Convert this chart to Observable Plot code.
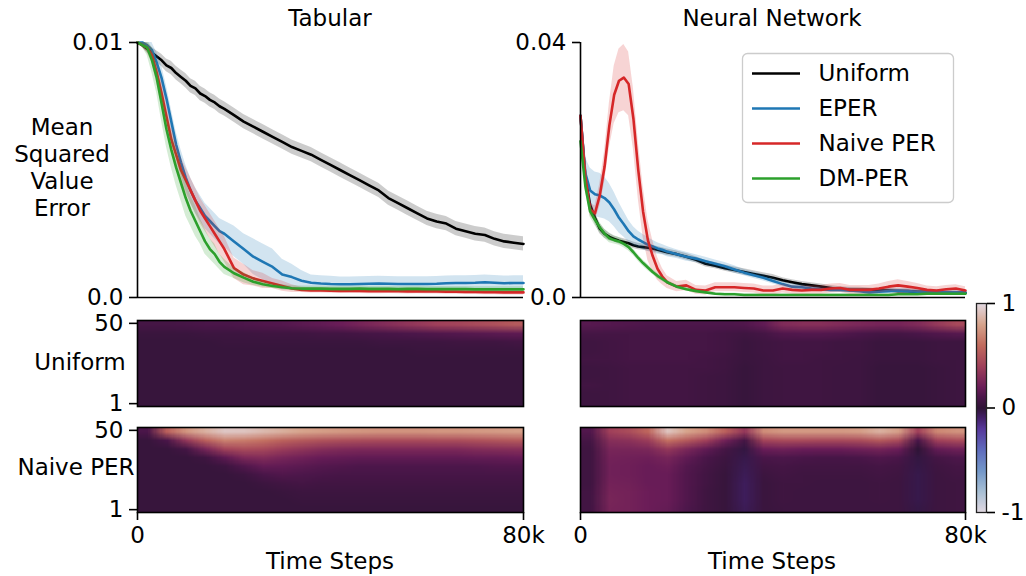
<!DOCTYPE html>
<html><head><meta charset="utf-8">
<script src="https://cdn.jsdelivr.net/npm/d3@7"></script>
<script src="https://cdn.jsdelivr.net/npm/@observablehq/plot@0.6"></script>
<style>
body{margin:0;background:#fff;}
#root{position:relative;width:1026px;height:576px;overflow:hidden;font-family:"DejaVu Sans",sans-serif;background:#fff;}
.lbl{position:absolute;font-size:23px;color:#000;white-space:nowrap;line-height:27px;transform:translate(-50%,-50%);text-align:center;}
</style></head>
<body><div id="root"></div>
<script>
// ---------- data ----------
const steps = [0,1,2,3,4,5,6,7,8,9,10,11,12,13,14,15,16,17,18,20,22,24,26,28,30,32,34,36,38,40,42,44,46,48,50,52,54,56,58,60,62,64,66,68,70,72,74,76,78,80]; // thousands of time steps
const seriesNames = ["Uniform","EPER","Naive PER","DM-PER"];
const seriesColors = ["#000000","#1f77b4","#d62728","#2ca02c"];

// Tabular MSVE
const tabUniform = [0.0100,0.0099,0.00975,0.0096,0.00945,0.0093,0.0091,0.0090,0.0088,0.00865,0.0085,0.0083,0.0082,0.0080,0.0079,0.00775,0.00765,0.0075,0.0074,
 0.00715,0.0069,0.0067,0.0065,0.0063,0.0061,0.0059,0.00575,0.0056,0.0054,0.0052,0.0050,0.0048,0.0046,0.0044,0.0042,0.0039,0.0037,0.0035,0.0033,0.0031,0.00298,0.0029,0.0027,0.0026,0.0025,0.00245,0.0023,0.0022,0.00215,0.0021];
const tabUniformSd = [0.00002,0.0001,0.00015,0.0002,0.00022,0.00024,0.00025,0.00026,0.00027,0.00027,0.00028,0.00028,0.00028,0.00028,0.00028,0.00028,0.00028,0.00028,0.00028,
 0.00028,0.00028,0.00028,0.00028,0.00028,0.00028,0.00028,0.00028,0.00028,0.00028,0.00028,0.00028,0.00028,0.00028,0.00028,0.00028,0.00028,0.00028,0.00028,0.00028,0.00028,0.00028,0.00028,0.00028,0.00028,0.00028,0.00028,0.00028,0.00028,0.00028,0.00028];
const tabEper = [0.0100,0.0100,0.0099,0.0097,0.0092,0.0086,0.0078,0.0069,0.0060,0.0053,0.0047,0.0042,0.0038,0.0035,0.0032,0.0030,0.0028,0.0026,0.0025,
 0.0022,0.0019,0.0016,0.0014,0.0012,0.0009,0.0008,0.00066,0.00058,0.00055,0.00053,0.00052,0.00052,0.00053,0.00054,0.00055,0.00054,0.00053,0.00053,0.00053,0.00053,0.00054,0.00056,0.00057,0.00057,0.00058,0.0006,0.00058,0.00056,0.00057,0.00057];
const tabEperSd = [0.00002,0.0001,0.0002,0.0003,0.0004,0.0005,0.0005,0.0005,0.0005,0.0005,0.0005,0.0005,0.0005,0.0005,0.0005,0.0005,0.0005,0.0005,0.0005,
 0.0006,0.0006,0.0007,0.0007,0.0007,0.0006,0.0005,0.0004,0.0003,0.0003,0.0003,0.00028,0.00028,0.00028,0.00028,0.00028,0.00028,0.00028,0.00028,0.00028,0.00028,0.00028,0.00028,0.00028,0.00028,0.00028,0.00028,0.00028,0.00028,0.00028,0.00028];
const tabNaive = [0.0100,0.0099,0.0098,0.0095,0.0088,0.0080,0.0071,0.0062,0.0056,0.0050,0.0046,0.0042,0.0038,0.0034,0.0031,0.0028,0.0025,0.0022,0.0019,
 0.00115,0.0009,0.00075,0.00065,0.00055,0.00045,0.00035,0.0003,0.00028,0.00028,0.00027,0.00026,0.00027,0.00026,0.00025,0.00025,0.00026,0.00025,0.00024,0.00025,0.00024,0.00024,0.00023,0.00023,0.00022,0.00022,0.00021,0.00021,0.0002,0.0002,0.0002];
const tabNaiveSd = [0.00002,0.0001,0.0002,0.0003,0.0004,0.0005,0.0005,0.0005,0.0005,0.0005,0.0005,0.0005,0.0005,0.0005,0.0005,0.0005,0.0005,0.0005,0.0005,
 0.0004,0.0004,0.0003,0.0003,0.0002,0.0002,0.00015,0.0001,0.0001,0.0001,0.0001,0.0001,0.0001,0.0001,0.0001,0.0001,0.0001,0.0001,0.0001,0.0001,0.0001,0.0001,0.0001,0.0001,0.0001,0.0001,0.0001,0.0001,0.0001,0.0001,0.0001];
const tabDm = [0.0100,0.0099,0.0098,0.0093,0.0086,0.0076,0.0066,0.0058,0.0051,0.0045,0.0039,0.0034,0.0030,0.0026,0.0022,0.0019,0.0017,0.0014,0.0012,
 0.00095,0.00078,0.00062,0.00052,0.00045,0.0004,0.00036,0.00035,0.00035,0.00035,0.00034,0.00034,0.00034,0.00035,0.00034,0.00034,0.00034,0.00033,0.00034,0.00034,0.00033,0.00033,0.00033,0.00033,0.00033,0.00032,0.00032,0.00032,0.00032,0.00032,0.00032];
const tabDmSd = [0.00002,0.0001,0.0003,0.0005,0.0006,0.0007,0.0007,0.0007,0.0007,0.0007,0.0007,0.0006,0.0006,0.0005,0.0005,0.0004,0.0004,0.0003,0.0003,
 0.0002,0.0002,0.00015,0.00012,0.0001,0.0001,0.0001,0.0001,0.0001,0.0001,0.0001,0.0001,0.0001,0.0001,0.0001,0.0001,0.0001,0.0001,0.0001,0.0001,0.0001,0.0001,0.0001,0.0001,0.0001,0.0001,0.0001,0.0001,0.0001,0.0001,0.0001];

// Neural network MSVE
const nnUniform = [0.0285,0.0190,0.0145,0.0125,0.0108,0.0100,0.0095,0.0092,0.0089,0.0087,0.0085,0.0082,0.0080,0.0079,0.0078,0.0077,0.0075,0.0073,0.0071,
 0.0068,0.0064,0.0059,0.0053,0.0050,0.0046,0.0043,0.0040,0.0037,0.0034,0.0031,0.0027,0.0024,0.0021,0.0019,0.0017,0.0015,0.0013,0.0012,0.0012,0.0012,0.0011,0.0011,0.0010,0.0010,0.0009,0.0009,0.0008,0.0008,0.0007,0.0007];
const nnUniformSd = [0.0003,0.0008,0.0009,0.0009,0.0008,0.0007,0.0006,0.0005,0.0005,0.0005,0.0005,0.0005,0.0005,0.0005,0.0005,0.0005,0.0005,0.0005,0.0005,
 0.0005,0.0005,0.0005,0.0005,0.0005,0.0005,0.0005,0.0005,0.0005,0.0005,0.0005,0.0004,0.0004,0.0004,0.0004,0.0004,0.0004,0.0004,0.0004,0.0004,0.0003,0.0003,0.0003,0.0003,0.0003,0.0003,0.0003,0.0003,0.0003,0.0003,0.0003];
const nnEper = [0.0285,0.0195,0.0168,0.0162,0.0160,0.0156,0.0149,0.0138,0.0125,0.0115,0.0104,0.0096,0.0091,0.0087,0.0083,0.0080,0.0077,0.0075,0.0072,
 0.0068,0.0064,0.0061,0.0057,0.0053,0.0049,0.0044,0.0039,0.0035,0.0031,0.0026,0.0021,0.0017,0.0016,0.0014,0.0013,0.0012,0.0012,0.0011,0.0010,0.0008,0.0009,0.0010,0.0011,0.0010,0.0009,0.0008,0.0008,0.0008,0.0008,0.0008];
const nnEperSd = [0.0003,0.0025,0.0035,0.0035,0.0035,0.0033,0.0030,0.0027,0.0024,0.0020,0.0017,0.0015,0.0013,0.0012,0.0011,0.0010,0.0009,0.0008,0.0008,
 0.0007,0.0007,0.0006,0.0006,0.0006,0.0006,0.0006,0.0005,0.0005,0.0005,0.0005,0.0004,0.0004,0.0004,0.0004,0.0004,0.0004,0.0004,0.0004,0.0004,0.0004,0.0004,0.0004,0.0004,0.0004,0.0004,0.0004,0.0004,0.0004,0.0004,0.0004];
const nnNaive = [0.0285,0.0190,0.0138,0.0132,0.0160,0.0205,0.0270,0.0318,0.0340,0.0345,0.0335,0.0280,0.0200,0.0135,0.0090,0.0065,0.0045,0.0033,0.0024,
 0.0017,0.0019,0.0012,0.0011,0.0016,0.0016,0.0016,0.0015,0.0014,0.0011,0.0011,0.0014,0.0012,0.0011,0.0012,0.0012,0.0014,0.0015,0.0012,0.0012,0.0012,0.0014,0.0017,0.0019,0.0017,0.0015,0.0012,0.0011,0.0013,0.0014,0.0011];
const nnNaiveSd = [0.0003,0.0008,0.0010,0.0012,0.0018,0.0025,0.0035,0.0045,0.0050,0.0052,0.0050,0.0048,0.0045,0.0040,0.0032,0.0025,0.0018,0.0013,0.0010,
 0.0008,0.0008,0.0007,0.0007,0.0007,0.0007,0.0007,0.0007,0.0007,0.0007,0.0007,0.0007,0.0007,0.0007,0.0007,0.0007,0.0007,0.0007,0.0007,0.0007,0.0007,0.0007,0.0008,0.0009,0.0008,0.0007,0.0006,0.0006,0.0006,0.0006,0.0006];
const nnDm = [0.0245,0.0175,0.0135,0.0122,0.0110,0.0100,0.0093,0.0090,0.0088,0.0084,0.0079,0.0071,0.0062,0.0054,0.0047,0.0040,0.0034,0.0029,0.0024,
 0.0017,0.0013,0.0010,0.0008,0.0006,0.0005,0.0005,0.0004,0.0004,0.0004,0.0004,0.0004,0.0004,0.0004,0.0004,0.0004,0.0004,0.0004,0.0004,0.0004,0.0004,0.0004,0.0004,0.0005,0.0005,0.0005,0.0006,0.0006,0.0006,0.0006,0.0006];
const nnDmSd = [0.0003,0.0008,0.0009,0.0009,0.0008,0.0007,0.0007,0.0006,0.0006,0.0006,0.0006,0.0005,0.0005,0.0005,0.0005,0.0004,0.0004,0.0004,0.0003,
 0.0003,0.0003,0.0002,0.0002,0.0002,0.0002,0.0002,0.0002,0.0002,0.0002,0.0002,0.0002,0.0002,0.0002,0.0002,0.0002,0.0002,0.0002,0.0002,0.0002,0.0002,0.0002,0.0002,0.0002,0.0002,0.0002,0.0002,0.0002,0.0002,0.0002,0.0002];

// Heatmaps: rows = priority ranks 50 (top) .. 1 (bottom) in bands of 5; columns = 4k-step bins 0..80k
const hmTabUniform = [
 [0.08,0.08,0.09,0.10,0.10,0.11,0.12,0.13,0.15,0.17,0.20,0.24,0.28,0.32,0.36,0.40,0.42,0.45,0.48,0.52],
 [0.04,0.04,0.04,0.05,0.05,0.05,0.06,0.06,0.06,0.07,0.07,0.08,0.09,0.10,0.11,0.12,0.13,0.14,0.15,0.16],
 [0.03,0.03,0.03,0.03,0.04,0.04,0.04,0.04,0.04,0.04,0.04,0.04,0.05,0.05,0.05,0.05,0.06,0.06,0.06,0.07],
 [0.03,0.03,0.03,0.03,0.03,0.03,0.03,0.03,0.03,0.03,0.03,0.03,0.03,0.03,0.04,0.04,0.04,0.04,0.04,0.04],
 [0.03,0.03,0.03,0.03,0.03,0.03,0.03,0.03,0.03,0.03,0.03,0.03,0.03,0.03,0.03,0.03,0.03,0.03,0.03,0.03],
 [0.03,0.03,0.03,0.03,0.03,0.03,0.03,0.03,0.03,0.03,0.03,0.03,0.03,0.03,0.03,0.03,0.03,0.03,0.03,0.03],
 [0.03,0.03,0.03,0.03,0.03,0.03,0.03,0.03,0.03,0.03,0.03,0.03,0.03,0.03,0.03,0.03,0.03,0.03,0.03,0.03],
 [0.03,0.03,0.03,0.03,0.03,0.03,0.03,0.03,0.03,0.03,0.03,0.03,0.03,0.03,0.03,0.03,0.03,0.03,0.03,0.03],
 [0.03,0.03,0.03,0.03,0.03,0.03,0.03,0.03,0.03,0.03,0.03,0.03,0.03,0.03,0.03,0.03,0.03,0.03,0.03,0.03],
 [0.03,0.03,0.03,0.03,0.03,0.03,0.03,0.03,0.03,0.03,0.03,0.03,0.03,0.03,0.03,0.03,0.03,0.03,0.03,0.03]];
const hmTabNaive = [
 [0.10,0.55,0.75,0.85,0.93,0.92,0.88,0.84,0.80,0.78,0.76,0.75,0.74,0.74,0.74,0.75,0.75,0.76,0.77,0.78],
 [0.03,0.10,0.35,0.55,0.68,0.66,0.62,0.56,0.52,0.49,0.47,0.46,0.45,0.45,0.45,0.46,0.46,0.48,0.50,0.52],
 [0.03,0.03,0.08,0.25,0.42,0.46,0.44,0.38,0.34,0.30,0.28,0.27,0.27,0.27,0.27,0.27,0.27,0.29,0.30,0.31],
 [0.03,0.03,0.03,0.06,0.16,0.27,0.29,0.25,0.22,0.19,0.18,0.17,0.17,0.17,0.17,0.17,0.17,0.18,0.18,0.19],
 [0.03,0.03,0.03,0.03,0.05,0.12,0.18,0.17,0.15,0.13,0.12,0.11,0.11,0.11,0.11,0.11,0.11,0.11,0.12,0.12],
 [0.03,0.03,0.03,0.03,0.03,0.05,0.10,0.12,0.11,0.10,0.09,0.09,0.09,0.09,0.09,0.09,0.09,0.09,0.09,0.09],
 [0.03,0.03,0.03,0.03,0.03,0.03,0.05,0.07,0.08,0.07,0.07,0.07,0.07,0.07,0.07,0.07,0.07,0.07,0.07,0.07],
 [0.03,0.03,0.03,0.03,0.03,0.03,0.03,0.04,0.05,0.05,0.05,0.05,0.05,0.05,0.05,0.05,0.05,0.05,0.05,0.05],
 [0.03,0.03,0.03,0.03,0.03,0.03,0.03,0.03,0.04,0.04,0.04,0.04,0.04,0.04,0.04,0.04,0.04,0.04,0.04,0.04],
 [0.03,0.03,0.03,0.03,0.03,0.03,0.03,0.03,0.03,0.03,0.03,0.03,0.03,0.03,0.03,0.03,0.03,0.03,0.03,0.03]];
const hmNnUniform = [
 [0.14,0.13,0.12,0.11,0.11,0.11,0.11,0.11,0.12,0.17,0.28,0.30,0.30,0.28,0.26,0.24,0.24,0.28,0.36,0.44],
 [0.08,0.08,0.08,0.08,0.08,0.08,0.08,0.07,0.06,0.08,0.12,0.13,0.13,0.12,0.10,0.08,0.08,0.10,0.12,0.14],
 [0.06,0.07,0.08,0.08,0.08,0.08,0.08,0.07,0.04,0.06,0.07,0.07,0.07,0.06,0.06,0.04,0.04,0.04,0.05,0.05],
 [0.06,0.07,0.08,0.08,0.08,0.08,0.08,0.07,0.04,0.06,0.07,0.07,0.07,0.06,0.06,0.04,0.04,0.04,0.05,0.05],
 [0.07,0.07,0.08,0.08,0.08,0.08,0.07,0.06,0.04,0.05,0.07,0.07,0.06,0.06,0.05,0.04,0.04,0.04,0.05,0.05],
 [0.05,0.06,0.07,0.07,0.07,0.07,0.07,0.06,0.03,0.05,0.06,0.06,0.06,0.05,0.05,0.03,0.03,0.03,0.04,0.05],
 [0.05,0.06,0.07,0.07,0.07,0.07,0.06,0.05,0.03,0.05,0.06,0.06,0.06,0.05,0.05,0.03,0.03,0.03,0.04,0.05],
 [0.07,0.06,0.07,0.07,0.07,0.07,0.06,0.05,0.03,0.05,0.06,0.06,0.06,0.05,0.05,0.03,0.03,0.03,0.04,0.05],
 [0.05,0.06,0.07,0.07,0.07,0.07,0.06,0.05,0.03,0.05,0.06,0.06,0.06,0.05,0.05,0.03,0.03,0.03,0.04,0.05],
 [0.05,0.06,0.07,0.07,0.07,0.07,0.06,0.05,0.03,0.05,0.06,0.06,0.06,0.05,0.05,0.03,0.03,0.03,0.04,0.05]];
const hmNnNaive = [
 [0.12,0.40,0.46,0.58,0.92,0.80,0.72,0.55,0.35,0.72,0.76,0.76,0.76,0.76,0.78,0.85,0.78,0.40,0.70,0.74],
 [0.08,0.30,0.32,0.38,0.62,0.52,0.40,0.22,0.08,0.42,0.45,0.45,0.44,0.44,0.46,0.52,0.45,0.10,0.40,0.45],
 [0.06,0.25,0.25,0.26,0.36,0.26,0.17,0.08,-0.02,0.20,0.22,0.20,0.20,0.20,0.22,0.24,0.20,0.00,0.18,0.22],
 [0.06,0.23,0.22,0.21,0.25,0.17,0.10,0.05,-0.04,0.10,0.11,0.10,0.09,0.09,0.10,0.12,0.10,-0.02,0.08,0.11],
 [0.06,0.22,0.21,0.19,0.21,0.13,0.08,0.04,-0.05,0.07,0.08,0.07,0.07,0.07,0.07,0.08,0.07,-0.03,0.06,0.08],
 [0.06,0.22,0.21,0.19,0.19,0.12,0.07,0.03,-0.06,0.05,0.07,0.06,0.06,0.06,0.06,0.07,0.06,-0.04,0.05,0.07],
 [0.06,0.23,0.22,0.19,0.19,0.12,0.07,0.03,-0.07,0.04,0.06,0.06,0.05,0.05,0.05,0.06,0.05,-0.04,0.05,0.06],
 [0.07,0.24,0.23,0.20,0.19,0.12,0.06,0.03,-0.07,0.04,0.06,0.05,0.05,0.05,0.05,0.06,0.05,-0.04,0.05,0.06],
 [0.07,0.25,0.23,0.20,0.19,0.12,0.06,0.03,-0.07,0.04,0.06,0.05,0.05,0.05,0.05,0.06,0.05,-0.04,0.05,0.06],
 [0.07,0.24,0.23,0.20,0.18,0.11,0.06,0.03,-0.06,0.04,0.05,0.05,0.05,0.05,0.05,0.05,0.05,-0.03,0.05,0.06]];

// twilight-like colormap for values -1..1
const cmapStops = [-1,-0.8,-0.6,-0.4,-0.2,-0.1,0,0.1,0.2,0.4,0.6,0.8,1];
const cmapColors = ["#e2d9e2","#a7bfd4","#7397c9","#5f6bbd","#57389b","#44216b","#2f1436","#4a1649","#6b1d58","#a0405a","#c26b5d","#d7a48c","#e2d9e2"];
const colorbarTicks = [-1,0,1];

// ---------- drawing ----------
const W = 1026, H = 576;
const root = document.getElementById("root");
const baseStyle = {background:"transparent", fontFamily:"DejaVu Sans, sans-serif", fontSize:"23px", color:"black", overflow:"visible"};
const colorScale = {type:"linear", domain:cmapStops, range:cmapColors, clamp:true};
function box(x0,y0,x1,y1){ return {width:W, height:H, marginLeft:x0, marginTop:y0, marginRight:W-x1, marginBottom:H-y1}; }
function add(el){ el.style.position="absolute"; el.style.left="0px"; el.style.top="0px"; root.appendChild(el); }
function label(text, x, y){ const d=document.createElement("div"); d.className="lbl"; d.innerHTML=text; d.style.left=x+"px"; d.style.top=y+"px"; root.appendChild(d); }
function rowsOf(vals, sd){ return steps.map((s,i)=>({step:s, y:vals[i], lo:vals[i]-sd[i], hi:vals[i]+sd[i]})); }

function linePanel(b, ymax, series, tickLabels){
  const marks = [];
  series.forEach(s => {
    const rows = rowsOf(s.vals, s.sd);
    marks.push(Plot.areaY(rows, {x:"step", y1:"lo", y2:"hi", fill:s.color, fillOpacity:0.2, clip:true}));
    marks.push(Plot.line(rows, {x:"step", y:"y", stroke:s.color, strokeWidth:2.6}));
  });
  marks.push(Plot.ruleX([0], {stroke:"black", strokeWidth:1.6}));
  marks.push(Plot.ruleY([0], {stroke:"black", strokeWidth:1.6}));
  marks.push(Plot.axisY({ticks:[0,ymax], tickFormat:(d)=> d===0 ? tickLabels[0] : tickLabels[1], tickSize:8, tickPadding:6, strokeWidth:1.6, label:null}));
  return Plot.plot({...b, x:{domain:[0,80], axis:null}, y:{domain:[0,ymax]}, style:baseStyle, marks});
}
function heatPanel(b, grid, showY, showX){
  const marks = [
    Plot.raster(grid.flat(), {width:grid[0].length, height:grid.length, x1:0, x2:80, y1:50.5, y2:0.5, fill:d=>d}),
    Plot.frame({stroke:"black", strokeWidth:1.6})
  ];
  if (showY) {
    marks.push(Plot.axisY({ticks:[50], tickFormat:d=>String(d), tickSize:8, tickPadding:6, strokeWidth:1.6, dy:2, label:null}));
    marks.push(Plot.axisY({ticks:[1], tickFormat:d=>String(d), tickSize:8, tickPadding:6, strokeWidth:1.6, dy:-2, label:null}));
  }
  if (showX) marks.push(Plot.axisX({ticks:[0,80], tickFormat:d=> d===0 ? "0" : "80k", tickSize:8, tickPadding:6, strokeWidth:1.6, label:null}));
  const xs = showX ? {domain:[0,80]} : {domain:[0,80], axis:null};
  const ys = showY ? {domain:[0.5,50.5]} : {domain:[0.5,50.5], axis:null};
  return Plot.plot({...b, x:xs, y:ys, color:colorScale, style:baseStyle, marks});
}

const tabSeries = [
  {vals:tabUniform, sd:tabUniformSd, color:seriesColors[0]},
  {vals:tabEper, sd:tabEperSd, color:seriesColors[1]},
  {vals:tabNaive, sd:tabNaiveSd, color:seriesColors[2]},
  {vals:tabDm, sd:tabDmSd, color:seriesColors[3]}];
const nnSeries = [
  {vals:nnUniform, sd:nnUniformSd, color:seriesColors[0]},
  {vals:nnEper, sd:nnEperSd, color:seriesColors[1]},
  {vals:nnNaive, sd:nnNaiveSd, color:seriesColors[2]},
  {vals:nnDm, sd:nnDmSd, color:seriesColors[3]}];

add(linePanel(box(137,42,523,297), 0.01, tabSeries, ["0.0","0.01"]));
add(linePanel(box(580,42,965,297), 0.04, nnSeries, ["0.0","0.04"]));

add(heatPanel(box(137,320,523,406), hmTabUniform, true, false));
add(heatPanel(box(137,427,523,512), hmTabNaive, true, true));
add(heatPanel(box(580,320,965,406), hmNnUniform, false, false));
add(heatPanel(box(580,427,965,512), hmNnNaive, false, true));

// colorbar
add(Plot.plot({...box(976,303,986,512), x:{domain:[0,1], axis:null}, y:{domain:[-1,1]}, color:colorScale, style:baseStyle,
  marks:[
    Plot.raster({fill:(x,y)=>y, x1:0, x2:1, y1:1, y2:-1, pixelSize:1}),
    Plot.frame({stroke:"#222", strokeWidth:1.3}),
    Plot.axisY({anchor:"right", ticks:colorbarTicks, tickFormat:d=>String(d), tickSize:8, tickPadding:7, strokeWidth:1.6, label:null})
  ]}));

// legend
add(Plot.plot({...box(742,53,953,202), x:{domain:[0,1], range:[752,800], axis:null}, y:{type:"point", padding:0, domain:seriesNames, range:[73,178], axis:null},
  color:{domain:seriesNames, range:seriesColors}, style:baseStyle,
  marks:[
    Plot.frame({fill:"white", fillOpacity:0.8, stroke:"#cccccc", strokeWidth:1.3, rx:5}),
    Plot.ruleY(seriesNames, {y:d=>d, x1:0, x2:1, stroke:d=>d, strokeWidth:2.6}),
    Plot.text(seriesNames, {x:1, y:d=>d, text:d=>d, dx:18, textAnchor:"start", fontSize:23, fill:"black"})
  ]}));

// text labels
label("Tabular", 330, 18);
label("Neural Network", 772, 18);
label("Mean<br>Squared<br>Value<br>Error", 62, 168);
label("Uniform", 80, 362);
label("Naive PER", 76, 467);
label("Time Steps", 330, 561);
label("Time Steps", 772, 561);
</script>
</body></html>
